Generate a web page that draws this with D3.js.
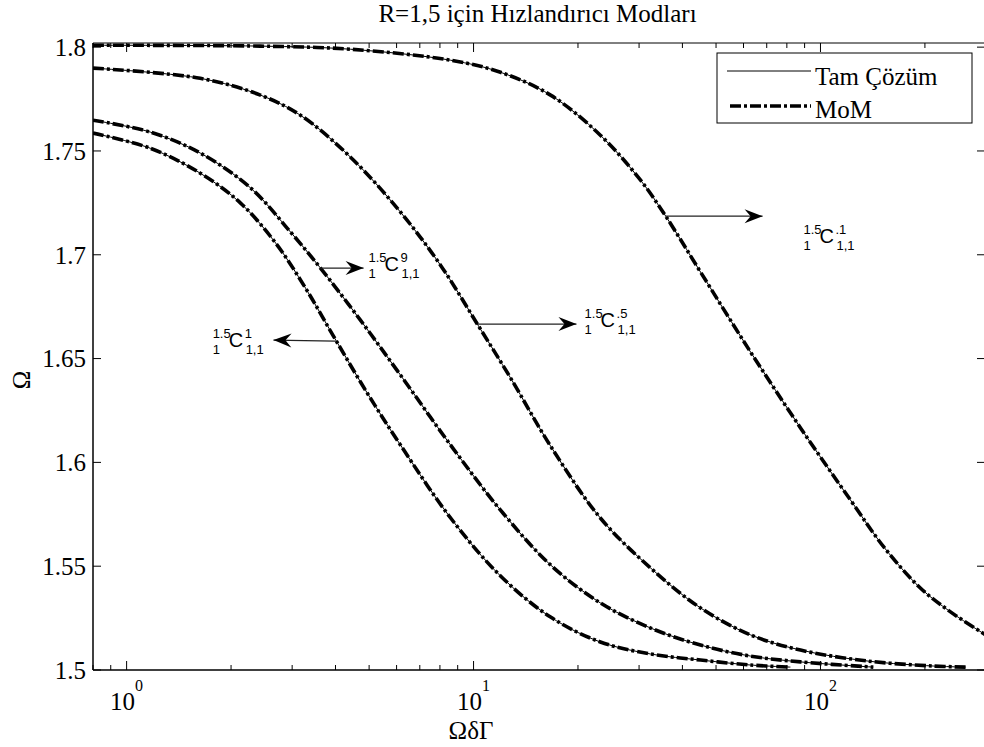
<!DOCTYPE html>
<html><head><meta charset="utf-8">
<script src="https://cdn.jsdelivr.net/npm/d3@7"></script>
<style>body{margin:0;background:#fff}svg{display:block}</style>
</head><body>
<script>
// ---- data ----
const titleText = "R=1,5 için Hızlandırıcı Modları";
const xLabel = "ΩδΓ";
const yLabel = "Ω";
const legendLabels = ["Tam Çözüm", "MoM"];
const xMajorTicks = [1, 10, 100];
const xTickExp = ["0", "1", "2"];
const yTicks = [1.5, 1.55, 1.6, 1.65, 1.7, 1.75, 1.8];
const yTickLabels = ["1.5", "1.55", "1.6", "1.65", "1.7", "1.75", "1.8"];

// curve 1 (C^1, R=1.5, right)
const c1X = [0.8, 2.43, 4.42, 8.59, 11.96, 16.67, 23.2, 30.3, 35.8, 45.1, 62.9, 87.6, 122, 153, 194, 237, 300];
const c1Y = [1.8009, 1.8005, 1.7990, 1.7937, 1.7879, 1.7769, 1.7576, 1.7359, 1.7186, 1.6917, 1.6531, 1.6166, 1.5819, 1.5588, 1.5395, 1.5280, 1.5168];
// curve 2 (C^5)
const c2X = [0.8, 1.63, 2.43, 3.17, 4.42, 6.16, 8.03, 10.3, 12.79, 16.67, 23.2, 32.4, 45.1, 62.9, 87.6, 137, 212, 262];
const c2Y = [1.7899, 1.7850, 1.7769, 1.7672, 1.7470, 1.7205, 1.6950, 1.6661, 1.6406, 1.6079, 1.5732, 1.5491, 1.5299, 1.5169, 1.5096, 1.5043, 1.5019, 1.5014];
// curve 3 (C^9)
const c3X = [0.8, 1.17, 1.63, 2.28, 2.97, 3.62, 4.72, 6.16, 8.59, 11.96, 16.67, 23.2, 32.4, 45.1, 62.9, 87.6, 142];
const c3Y = [1.7648, 1.7591, 1.7490, 1.7321, 1.7109, 1.6936, 1.6685, 1.6420, 1.6083, 1.5770, 1.5506, 1.5323, 1.5202, 1.5120, 1.5067, 1.5039, 1.5014];
// curve 4 (C^1, left)
const c4X = [0.8, 1.17, 1.63, 2.13, 2.69, 3.28, 3.95, 4.88, 6.16, 8.59, 11.96, 16.67, 23.2, 32.4, 45.1, 62.9, 81.9];
const c4Y = [1.7586, 1.7513, 1.7393, 1.7249, 1.7056, 1.6839, 1.6607, 1.6348, 1.6083, 1.5732, 1.5453, 1.5255, 1.5135, 1.5077, 1.5048, 1.5024, 1.5014];

// annotations: sup text, arrow from (on curve) -> tip, label anchor (data units)
const annSup   = [".1", ".5", "9", "1"];
const annFromX = [35.8, 10.3, 3.62, 4.0];
const annFromY = [1.7186, 1.6666, 1.6936, 1.6584];
const annTipX  = [68.1, 19.8, 4.82, 2.65];
const annTipY  = [1.7186, 1.6666, 1.6936, 1.6589];
const annLblX  = [89.3, 20.9, 4.98, 1.77];
const annLblY  = [1.7056, 1.6652, 1.6921, 1.6555];

// ---- drawing ----
const W = 984, H = 747;
const svg = d3.select("body").append("svg").attr("width", W).attr("height", H);
const x = d3.scaleLog().domain([0.8, 300]).range([93, 986]);
const y = d3.scaleLinear().domain([1.5, 1.802]).range([670, 43]);
const serif = "'Liberation Serif','Times New Roman',serif";
const sans = "'Liberation Sans',Arial,sans-serif";

svg.append("clipPath").attr("id","clip").append("rect")
  .attr("x", x.range()[0]).attr("y", y.range()[1])
  .attr("width", x.range()[1]-x.range()[0]).attr("height", y.range()[0]-y.range()[1]);

// axes box
const x0 = x.range()[0], x1 = x.range()[1], yT = y.range()[1], yB = y.range()[0];
svg.append("line").attr("x1",x0).attr("x2",x1).attr("y1",yT).attr("y2",yT).attr("stroke","#000").attr("stroke-width",1);
svg.append("line").attr("x1",x0).attr("x2",x1).attr("y1",yB).attr("y2",yB).attr("stroke","#000").attr("stroke-width",1.5);
svg.append("line").attr("x1",x0).attr("x2",x0).attr("y1",yT).attr("y2",yB).attr("stroke","#000").attr("stroke-width",1.5);
svg.append("line").attr("x1",x1).attr("x2",x1).attr("y1",yT).attr("y2",yB).attr("stroke","#000").attr("stroke-width",1);

// x ticks (major+minor) inward, bottom and top
const minorX = [];
[0.1, 1, 10, 100].forEach(d => { for (let k = 1; k <= 9; k++) { const v = +(d * k).toPrecision(3); if (v >= 0.8 && v <= 300) minorX.push(v); } });
minorX.forEach(v => {
  const major = xMajorTicks.includes(v);
  const L = major ? 9 : 5;
  svg.append("line").attr("x1",x(v)).attr("x2",x(v)).attr("y1",yB).attr("y2",yB-L).attr("stroke","#000").attr("stroke-width",1);
  svg.append("line").attr("x1",x(v)).attr("x2",x(v)).attr("y1",yT).attr("y2",yT+L).attr("stroke","#000").attr("stroke-width",1);
});
xMajorTicks.forEach((v, i) => {
  const t = svg.append("text").attr("x", x(v)).attr("y", 710).attr("text-anchor","middle")
    .attr("font-family", serif).attr("font-size", 25).attr("fill","#000");
  t.append("tspan").text("10");
  t.append("tspan").attr("dy", -19).attr("font-size", 16).text(xTickExp[i]);
});

// y ticks
yTicks.forEach((v, i) => {
  svg.append("line").attr("x1",x0).attr("x2",x0+8).attr("y1",y(v)).attr("y2",y(v)).attr("stroke","#000").attr("stroke-width",1);
  svg.append("line").attr("x1",x1).attr("x2",x1-9).attr("y1",y(v)).attr("y2",y(v)).attr("stroke","#000").attr("stroke-width",1);
  svg.append("text").attr("x", 86).attr("y", y(v)).attr("dy", "0.35em").attr("text-anchor","end")
    .attr("font-family", serif).attr("font-size", 25).attr("fill","#000").text(yTickLabels[i]);
});

// curves
const curves = [[c1X,c1Y],[c2X,c2Y],[c3X,c3Y],[c4X,c4Y]];
const line = d3.line().x(d => x(d[0])).y(d => y(d[1])).curve(d3.curveCatmullRom.alpha(0.5));
const g = svg.append("g").attr("clip-path","url(#clip)");
curves.forEach(([xs, ys]) => {
  const pts = xs.map((v, i) => [v, ys[i]]);
  g.append("path").attr("d", line(pts)).attr("fill","none").attr("stroke","#000").attr("stroke-width",1);
  g.append("path").attr("d", line(pts)).attr("fill","none").attr("stroke","#000").attr("stroke-width",3.6)
    .attr("stroke-dasharray","11 3 3 3");
});

// annotations
function arrowHead(tx, ty, fx, fy) {
  const a = Math.atan2(ty - fy, tx - fx);
  const L = 18, Wd = 7, N = 12;
  const c = Math.cos(a), s = Math.sin(a);
  const p = (dl, dw) => [tx - dl * c - dw * s, ty - dl * s + dw * c];
  const pts = [[tx, ty], p(L, Wd), p(N, 0), p(L, -Wd)];
  return "M" + pts.map(q => q.join(",")).join("L") + "Z";
}
annSup.forEach((sup, i) => {
  const fx = x(annFromX[i]), fy = y(annFromY[i]), tx = x(annTipX[i]), ty = y(annTipY[i]);
  svg.append("line").attr("x1",fx).attr("y1",fy).attr("x2",tx).attr("y2",ty).attr("stroke","#222").attr("stroke-width",1.2);
  svg.append("path").attr("d", arrowHead(tx, ty, fx, fy)).attr("fill","#000");
  const lx = x(annLblX[i]), ly = y(annLblY[i]);
  const tg = svg.append("g").attr("font-family", sans).attr("fill","#000");
  tg.append("text").attr("x", lx).attr("y", ly - 9).attr("font-size", 13).text("1.5");
  tg.append("text").attr("x", lx).attr("y", ly + 7).attr("font-size", 13).text("1");
  tg.append("text").attr("x", lx + 16).attr("y", ly).attr("font-size", 20).text("C");
  tg.append("text").attr("x", lx + 32).attr("y", ly - 9).attr("font-size", 13).text(sup);
  tg.append("text").attr("x", lx + 33).attr("y", ly + 7).attr("font-size", 13).text("1,1");
});

// legend
svg.append("rect").attr("x",717).attr("y",53).attr("width",255).attr("height",70).attr("fill","#fff").attr("stroke","#000").attr("stroke-width",1);
svg.append("line").attr("x1",727).attr("x2",811).attr("y1",71).attr("y2",71).attr("stroke","#000").attr("stroke-width",1);
svg.append("line").attr("x1",727).attr("x2",811).attr("y1",106).attr("y2",106).attr("stroke","#000").attr("stroke-width",3.6).attr("stroke-dasharray","11 3 3 3").attr("stroke-dashoffset", -3);
svg.append("text").attr("x",815).attr("y",85).attr("font-family",serif).attr("font-size",25).text(legendLabels[0]);
svg.append("text").attr("x",815).attr("y",118).attr("font-family",serif).attr("font-size",25).text(legendLabels[1]);

// title and axis labels
svg.append("text").attr("x", (x0 + x1) / 2 - 2).attr("y", 22).attr("text-anchor","middle")
  .attr("font-family", serif).attr("font-size", 25).text(titleText);
svg.append("text").attr("x", 471).attr("y", 739).attr("text-anchor","middle")
  .attr("font-family", serif).attr("font-size", 25).text(xLabel);
svg.append("text").attr("transform","translate(30,380) rotate(-90)").attr("text-anchor","middle")
  .attr("font-family", serif).attr("font-size", 25).text(yLabel);
</script>
</body></html>
